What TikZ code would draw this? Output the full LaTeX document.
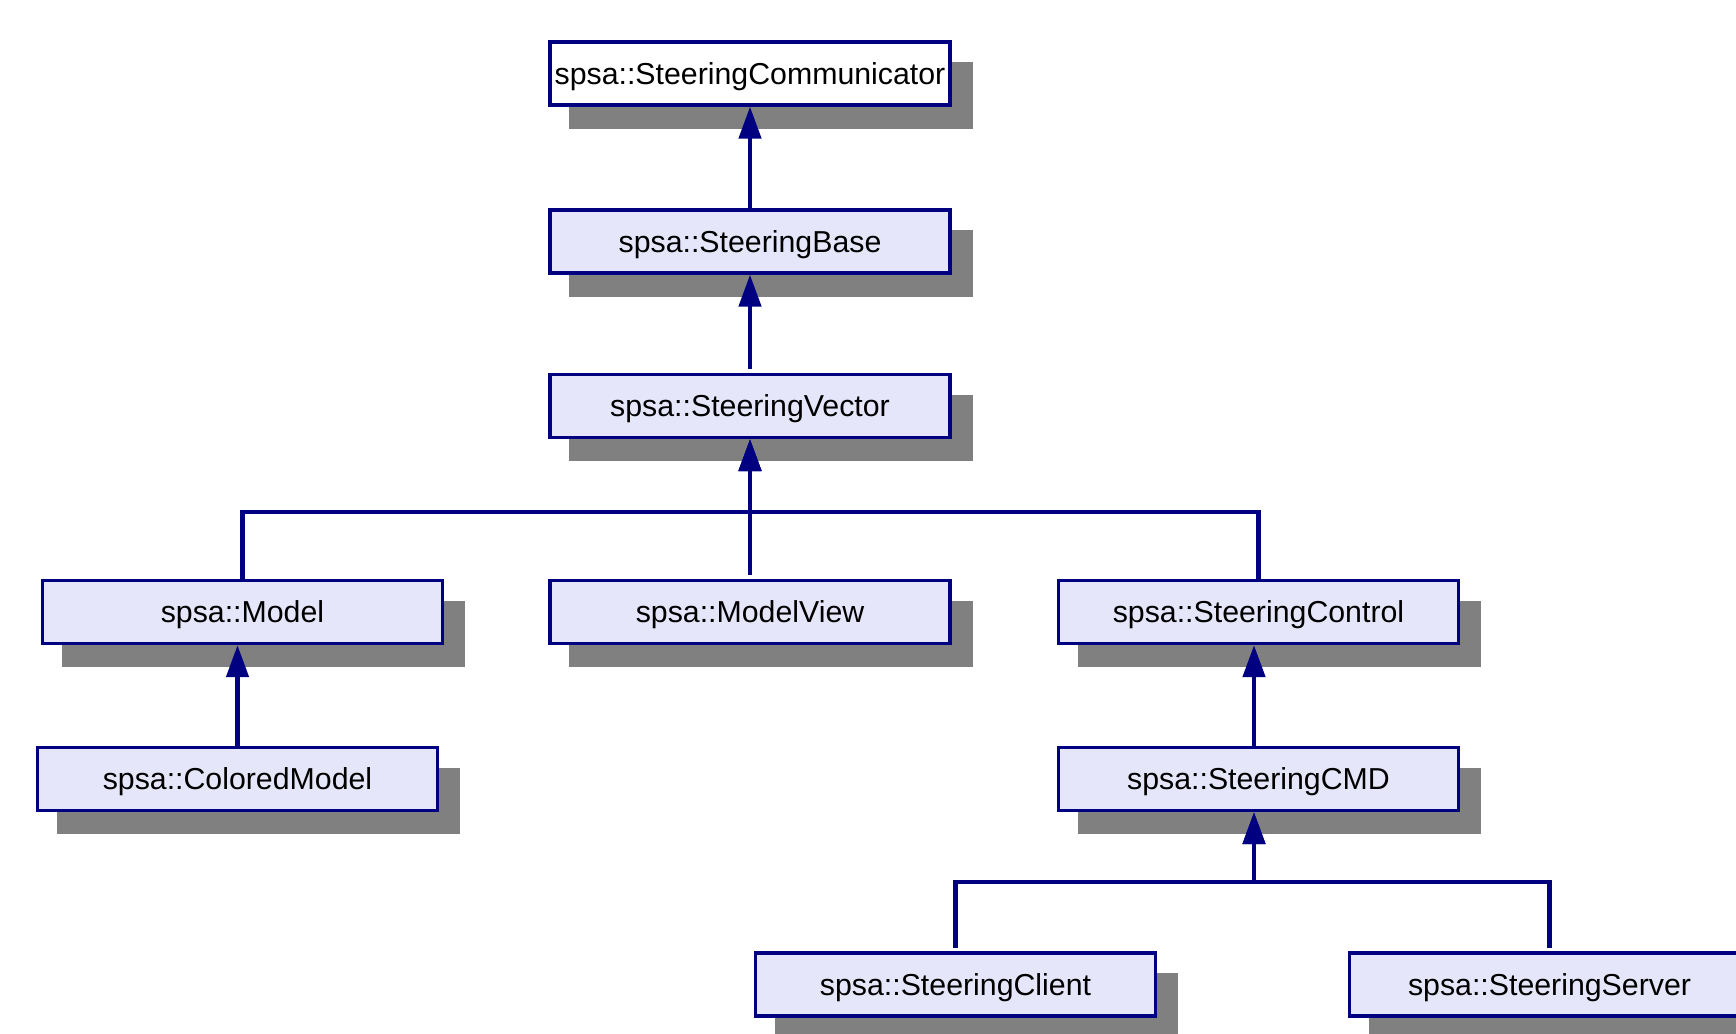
\documentclass[tikz,border=0pt]{standalone}
\usepackage{fontspec}
\setmainfont{Liberation Sans}
\usetikzlibrary{arrows.meta,shadows}
\definecolor{edgeblue}{RGB}{0,0,128}
\definecolor{boxfill}{RGB}{230,230,250}
\definecolor{shadowgray}{RGB}{128,128,128}

\begin{document}
\begin{tikzpicture}[x=1pt,y=-1pt,
  cls/.style={draw=edgeblue, line width=3.3pt, fill=boxfill,
    minimum width=400pt, minimum height=63pt,
    inner xsep=2pt, inner ysep=0pt, text height=21.7pt, text depth=0pt,
    font=\fontsize{30.3}{36}\selectfont,
    drop shadow={shadow xshift=21pt, shadow yshift=-22pt, opacity=1,
      fill=shadowgray, draw=shadowgray, line width=3.3pt, rounded corners=2pt}},
  inh/.style={draw=edgeblue, line width=4.6pt,
    -{Triangle[length=32pt,width=22pt]}}]

% page frame
\useasboundingbox (0,0) rectangle (1736,1033);
\clip (0,0) rectangle (1736,1033);

% classes
\node[cls, fill=white] (comm) at (750,73.5) {spsa::SteeringCommunicator};
\node[cls] (base)    at (750,241.5) {spsa::SteeringBase};
\node[cls] (vec)     at (750,406)   {spsa::SteeringVector};
\node[cls] (model)   at (242.5,612) {spsa::Model};
\node[cls] (mview)   at (750,612)   {spsa::ModelView};
\node[cls] (ctrl)    at (1258.5,612) {spsa::SteeringControl};
\node[cls] (colored) at (237.5,779) {spsa::ColoredModel};
\node[cls] (cmd)     at (1258.5,779) {spsa::SteeringCMD};
\node[cls] (client)  at (955.5,984.5) {spsa::SteeringClient};
\node[cls] (server)  at (1549.5,984.5) {spsa::SteeringServer};

% branch points
\coordinate (j1) at (750,512);
\coordinate (j2) at (1254,882);

% inheritance edges
\draw[inh] (base.north) -- (comm.south);
\draw[inh] ([yshift=4pt]vec.north) -- (base.south);
\draw[inh] ([yshift=4pt]mview.north) -- (vec.south);
\draw[inh] (model.north) |- (j1) -- (vec.south);
\draw[inh] (ctrl.north) |- (j1) -- (vec.south);
\draw[inh] (colored.north) -- (colored.north |- model.south);
\draw[inh] ([xshift=-4.5pt]cmd.north) -- ([xshift=-4.5pt]ctrl.south);
\draw[inh] ([yshift=3pt]client.north) |- (j2) -- ([xshift=-4.5pt]cmd.south);
\draw[inh] ([yshift=3pt]server.north) |- (j2) -- ([xshift=-4.5pt]cmd.south);
\end{tikzpicture}
\end{document}
